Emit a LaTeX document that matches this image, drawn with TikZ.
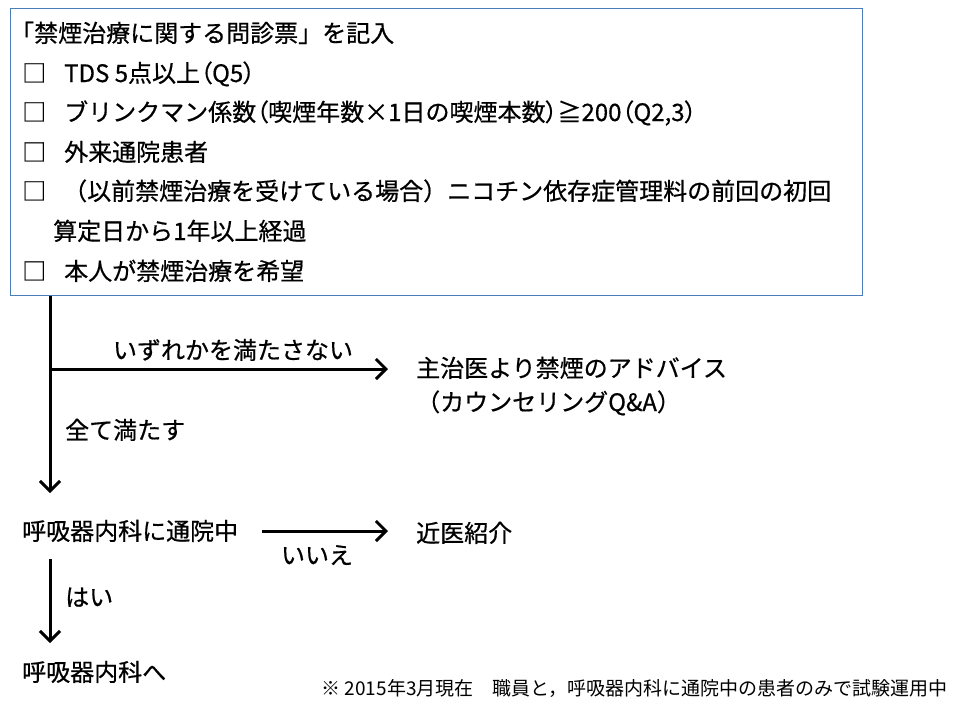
\documentclass[tikz,border=0pt]{standalone}
\usepackage{fontspec}
\newfontfamily\jp[UprightFeatures={FakeBold=0.6}]{Noto Sans CJK JP}
\newfontfamily\jpnote{Noto Sans CJK JP}
\newcommand\pp[1]{{\addfontfeature{RawFeature=+palt}#1}}
\usetikzlibrary{arrows.meta}
\definecolor{boxblue}{HTML}{4A7EBB}
\begin{document}
\begin{tikzpicture}[x=1pt,y=-1pt,
  txt/.style={font=\jp\fontsize{24}{24}\selectfont, inner sep=0pt, anchor=west, text height=21pt, text depth=3pt},
  note/.style={font=\jpnote\fontsize{19}{19}\selectfont, inner sep=0pt, anchor=east, text height=16.7pt, text depth=2.3pt},
  flow/.style={line width=3pt, -{Straight Barb[length=10pt,width=20pt]}}]
\useasboundingbox[fill=white] (0,0) rectangle (954,705);
\node[draw=boxblue, line width=1.3pt, minimum width=852pt, minimum height=287pt, anchor=north west, inner sep=0pt] (form) at (10,8) {};
\node[txt] (title) at (10,33) {「禁煙治療に関する問診票」を記入};
\node[txt] (c1) at (22,73) {□};
\node[txt] (t1) at (64,73) {TDS 5点以上\pp{（}Q5\pp{）}};
\node[txt] (c2) at (22,112) {□};
\node[txt] (t2) at (64,112) {ブリンクマン係数\pp{（}喫煙年数×1日の喫煙本数\pp{）}≧200\pp{（}Q2,3\pp{）}};
\node[txt] (c3) at (22,152) {□};
\node[txt] (t3) at (64,152) {外来通院患者};
\node[txt] (c4) at (22,191) {□};
\node[txt] (t4) at (63,191) {（以前禁煙治療を受けている場合）ニコチン依存症管理料の前回の初回};
\node[txt] (t4b) at (53,231) {算定日から1年以上経過};
\node[txt] (c5) at (22,271) {□};
\node[txt] (t5) at (64,271) {本人が禁煙治療を希望};

\coordinate (split) at (50,369);
\coordinate (a1end) at (50,493);
\coordinate (hend) at (388,369);
\node[txt, anchor=center] (lno) at (233,350) {いずれかを満たさない};
\node[txt] (adv) at (416,368) {主治医より禁煙のアドバイス};
\node[txt] (adv2) at (416,402) {（カウンセリングQ\&A）};
\node[txt] (lall) at (65,430) {全て満たす};

\node[txt] (clinic) at (22,531) {呼吸器内科に通院中};
\coordinate (nstart) at (262,531);
\coordinate (nend) at (388,531);
\node[txt, anchor=center] (lnon) at (317,555) {いいえ};
\node[txt] (near) at (416,533) {近医紹介};
\coordinate (ystart) at (50,559);
\coordinate (yend) at (50,643);
\node[txt] (lyes) at (65,597) {はい};
\node[txt] (resp) at (22,672) {呼吸器内科へ};

\node[note] (foot) at (948,688) {※ 2015年3月現在　職員と，呼吸器内科に通院中の患者のみで試験運用中};

\draw[flow] (form.south -| split) -- (a1end);
\draw[flow] (split) -- (hend);
\draw[flow] (nstart) -- (nend);
\draw[flow] (ystart) -- (yend);
\end{tikzpicture}
\end{document}
